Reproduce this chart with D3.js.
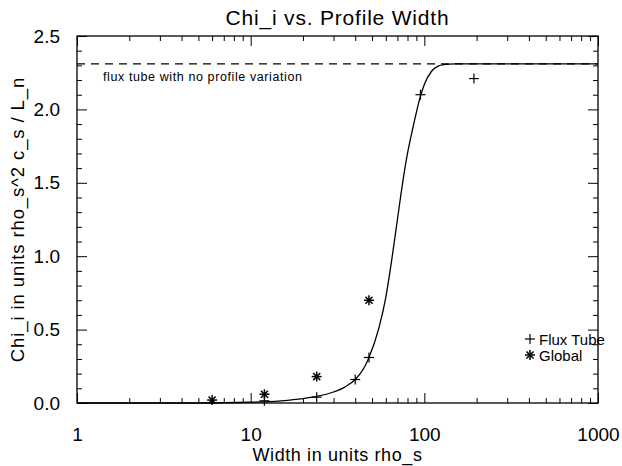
<!DOCTYPE html>
<html><head><meta charset="utf-8">
<script src="https://cdn.jsdelivr.net/npm/d3@7"></script>
<style>
body{margin:0;background:#fff}
text{font-family:"Liberation Sans",Arial,sans-serif;fill:#000}
</style>
</head><body><svg id="c" width="622" height="466"></svg>
<script>
// ---- data ----
const fluxWidth = [12, 24, 40, 48, 95, 193];
const fluxChi   = [0.015, 0.04, 0.16, 0.31, 2.10, 2.21];
const globalWidth = [6, 12, 24, 48];
const globalChi   = [0.02, 0.06, 0.18, 0.70];
const curveWidth = [1, 5, 10, 15, 20, 24, 30, 35, 40, 45, 48, 55, 60, 65, 70, 75, 80, 85, 90, 95, 100, 110, 120, 130, 150, 1000];
const curveChi   = [0, 0, 0.005, 0.015, 0.03, 0.045, 0.075, 0.11, 0.16, 0.24, 0.31, 0.52, 0.72, 0.98, 1.25, 1.5, 1.7, 1.85, 1.98, 2.09, 2.17, 2.26, 2.295, 2.305, 2.31, 2.31];
const noProfileLevel = 2.31;
const xMajorTicks = [1, 10, 100, 1000];
const yMajorTicks = [0, 0.5, 1.0, 1.5, 2.0, 2.5];
const titleText = "Chi_i vs. Profile Width";
const xTitle = "Width in units rho_s";
const yTitle = "Chi_i in units rho_s^2 c_s / L_n";
const noteText = "flux tube with no profile variation";
const legendLabels = ["Flux Tube", "Global"];

// ---- layout ----
const L = 77, R = 598, T = 36, B = 403;
const svg = d3.select("#c");
const x = d3.scaleLog().domain([1, 1000]).range([L, R]);
const y = d3.scaleLinear().domain([0, 2.5]).range([B, T]);

const xMinor = [];
for (let d = 1; d < 1000; d *= 10) for (let k = 2; k <= 9; k++) xMinor.push(d * k);
const yMinor = d3.range(0, 25).filter(i => i % 5 !== 0).map(i => i / 10);

const fmtY = d3.format(".1f");
function styleAxis(g){ g.select(".domain").remove(); g.selectAll("line").attr("stroke","#000").attr("stroke-width",1); }

// bottom
svg.append("g").attr("transform",`translate(0,${B})`)
  .call(d3.axisBottom(x).tickValues(xMajorTicks).tickSize(-10).tickFormat(d3.format("d")).tickPadding(22))
  .call(styleAxis).call(g=>g.selectAll("text").attr("font-size",19).attr("dy","0.71em").attr("transform","translate(0,3)"));
svg.append("g").attr("transform",`translate(0,${B})`)
  .call(d3.axisBottom(x).tickValues(xMinor).tickSize(-5).tickFormat(""))
  .call(styleAxis);
// top
svg.append("g").attr("transform",`translate(0,${T})`)
  .call(d3.axisTop(x).tickValues(xMajorTicks).tickSize(-10).tickFormat(""))
  .call(styleAxis);
svg.append("g").attr("transform",`translate(0,${T})`)
  .call(d3.axisTop(x).tickValues(xMinor).tickSize(-5).tickFormat(""))
  .call(styleAxis);
// left
svg.append("g").attr("transform",`translate(${L},0)`)
  .call(d3.axisLeft(y).tickValues(yMajorTicks).tickSize(-10).tickFormat(fmtY).tickPadding(17))
  .call(styleAxis).call(g=>g.selectAll("text").attr("font-size",19));
svg.append("g").attr("transform",`translate(${L},0)`)
  .call(d3.axisLeft(y).tickValues(yMinor).tickSize(-5).tickFormat(""))
  .call(styleAxis);
// right
svg.append("g").attr("transform",`translate(${R},0)`)
  .call(d3.axisRight(y).tickValues(yMajorTicks).tickSize(-10).tickFormat(""))
  .call(styleAxis);
svg.append("g").attr("transform",`translate(${R},0)`)
  .call(d3.axisRight(y).tickValues(yMinor).tickSize(-5).tickFormat(""))
  .call(styleAxis);

// frame
svg.append("rect").attr("x",L).attr("y",T).attr("width",R-L).attr("height",B-T)
  .attr("fill","none").attr("stroke","#000").attr("stroke-width",1.3);

// dashed reference line
svg.append("line").attr("x1",L).attr("x2",R).attr("y1",y(noProfileLevel)).attr("y2",y(noProfileLevel))
  .attr("stroke","#000").attr("stroke-width",1.1).attr("stroke-dasharray","8,6");
svg.append("text").attr("x",103).attr("y",y(noProfileLevel)+17).attr("font-size",12.5)
  .attr("letter-spacing",0.6).text(noteText);

// curve
const curveData = curveWidth.map((w,i)=>[w,curveChi[i]]);
svg.append("path").datum(curveData)
  .attr("d", d3.line().x(d=>x(d[0])).y(d=>y(d[1])).curve(d3.curveMonotoneX))
  .attr("fill","none").attr("stroke","#000").attr("stroke-width",1.3);

// markers
const s = 5;
function plus(g){ g.append("line").attr("x1",-s).attr("x2",s).attr("y1",0).attr("y2",0);
  g.append("line").attr("x1",0).attr("x2",0).attr("y1",-s).attr("y2",s); }
function star(g){ [0,45,90,135].forEach(a=>{ const r=a*Math.PI/180;
  g.append("line").attr("x1",-s*Math.cos(r)).attr("x2",s*Math.cos(r)).attr("y1",-s*Math.sin(r)).attr("y2",s*Math.sin(r)); }); }

fluxWidth.forEach((w,i)=>{ const g=svg.append("g").attr("transform",`translate(${x(w)},${y(fluxChi[i])})`)
  .attr("stroke","#000").attr("stroke-width",1.2); plus(g); });
globalWidth.forEach((w,i)=>{ const g=svg.append("g").attr("transform",`translate(${x(w)},${y(globalChi[i])})`)
  .attr("stroke","#000").attr("stroke-width",1.5); star(g); });

// legend
const lx = 530, ly = 339;
{ const g=svg.append("g").attr("transform",`translate(${lx},${ly})`).attr("stroke","#000").attr("stroke-width",1.2); plus(g); }
{ const g=svg.append("g").attr("transform",`translate(${lx},${ly+16})`).attr("stroke","#000").attr("stroke-width",1.5); star(g); }
svg.append("text").attr("x",lx+9).attr("y",ly+6).attr("font-size",15).text(legendLabels[0]);
svg.append("text").attr("x",lx+9).attr("y",ly+22).attr("font-size",15).text(legendLabels[1]);

// titles
svg.append("text").attr("x",(L+R)/2).attr("y",25).attr("text-anchor","middle").attr("font-size",21)
  .attr("letter-spacing",0.8).text(titleText);
svg.append("text").attr("x",(L+R)/2).attr("y",461).attr("text-anchor","middle").attr("font-size",18)
  .attr("letter-spacing",0.6).text(xTitle);
svg.append("text").attr("transform",`translate(24,${(T+B)/2}) rotate(-90)`).attr("text-anchor","middle")
  .attr("font-size",18.5).attr("letter-spacing",0.9).text(yTitle);
</script></body></html>
